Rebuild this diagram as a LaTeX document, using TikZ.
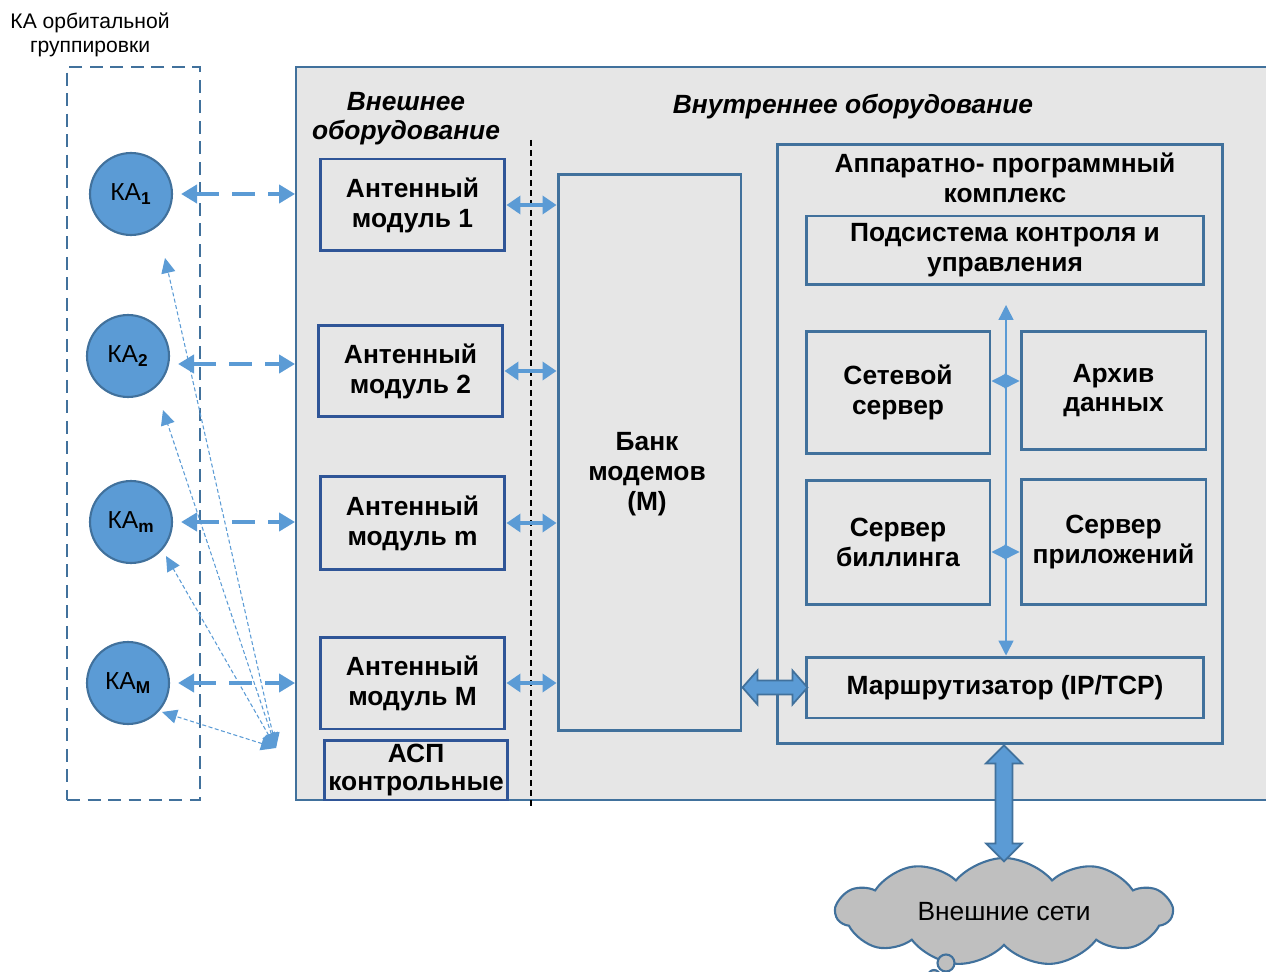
\documentclass[tikz,border=0pt]{standalone}
\usepackage{fontspec}
\setmainfont{Liberation Sans}
\usetikzlibrary{arrows.meta,shapes.symbols}
\definecolor{frame}{RGB}{65,113,156}
\definecolor{darkframe}{RGB}{47,85,151}
\definecolor{lightblue}{RGB}{91,155,213}
\definecolor{panel}{RGB}{230,230,230}
\definecolor{cloudgray}{RGB}{191,191,191}

\begin{document}
\begin{tikzpicture}[x=0.02cm,y=-0.02cm,
  txt/.style={font=\fontsize{15}{17}\selectfont\bfseries, align=center},
  head/.style={font=\fontsize{15}{16.5}\selectfont\bfseries\itshape, align=center},
  antbox/.style={draw=darkframe, line width=1.7pt, minimum width=3.7cm, minimum height=1.84cm, inner sep=0pt, txt},
  srvbox/.style={draw=frame, line width=1.7pt, inner sep=0pt, txt},
  sat/.style={circle, fill=lightblue, draw=frame, line width=1.2pt, minimum size=1.64cm, inner sep=0pt, font=\fontsize{14}{16}\selectfont},
  link/.style={lightblue, line width=2.8pt, dash pattern=on 0.46cm off 0.26cm, {Triangle[width=0.36cm,length=0.32cm]}-{Triangle[width=0.36cm,length=0.32cm]}},
  bus/.style={lightblue, line width=2.2pt, {Triangle[width=0.36cm,length=0.28cm]}-{Triangle[width=0.36cm,length=0.28cm]}},
  tiny/.style={lightblue, line width=0.8pt, {Triangle[width=0.3cm,length=0.3cm]}-{Triangle[width=0.3cm,length=0.3cm]}},
  probe/.style={lightblue, line width=0.6pt, dash pattern=on 0.08cm off 0.05cm, {Triangle[width=0.28cm,length=0.3cm]}-{Triangle[width=0.28cm,length=0.3cm]}},
  fat/.style={draw=frame, fill=lightblue, line width=1pt, line join=miter}]

\useasboundingbox (0,0) rectangle (1266,972);
\clip (0,0) rectangle (1266,972);

\node[align=center, font=\fontsize{12}{14}\selectfont] (orbittxt) at (90,35) {КА орбитальной\\группировки};
\node[draw=frame, line width=1.4pt, dash pattern=on 0.26cm off 0.15cm, minimum width=2.66cm, minimum height=14.66cm] (orbit) at (133.5,433.5) {};
\node[draw=frame, fill=panel, line width=1.2pt, minimum width=19.88cm, minimum height=14.66cm] (station) at (793,433.5) {};

\node[head] (extlbl) at (406,119) {Внешнее\\оборудование};
\node[head] (intlbl) at (853,107) {Внутреннее оборудование};
\draw[black, line width=0.6pt, dash pattern=on 0.12cm off 0.08cm] (531,140) -- (531,808);

\node[antbox] (am1) at (412.5,205) {Антенный\\модуль 1};
\node[antbox] (am2) at (410.5,371) {Антенный\\модуль 2};
\node[antbox, minimum height=1.88cm] (am3) at (412.5,523) {Антенный\\модуль m};
\node[antbox] (am4) at (412.5,683) {Антенный\\модуль M};
\node[antbox, minimum width=3.68cm, minimum height=1.2cm, font=\fontsize{15}{15.5}\selectfont\bfseries] (asp) at (416,770) {АСП\\контрольные};

\node[srvbox, minimum width=3.66cm, minimum height=11.14cm] (bank) at (649.5,452.5) {};
\node[txt] (banktxt) at (647,474) {Банк\\модемов\\(М)};

\node[srvbox, minimum width=8.92cm, minimum height=12cm] (apk) at (1000,444) {};
\node[txt] (apktxt) at (1005,178) {Аппаратно- программный\\комплекс};
\node[srvbox, minimum width=7.96cm, minimum height=1.38cm] (pod) at (1005,250.5) {Подсистема контроля и\\управления};
\node[srvbox, minimum width=3.68cm, minimum height=2.46cm] (net) at (898,392.5) {Сетевой\\сервер};
\node[srvbox, minimum width=3.7cm, minimum height=2.38cm] (arch) at (1113.5,390.5) {Архив\\данных};
\node[srvbox, minimum width=3.68cm, minimum height=2.5cm] (bill) at (898,542.5) {Сервер\\биллинга};
\node[srvbox, minimum width=3.7cm, minimum height=2.52cm] (app) at (1113.5,542) {Сервер\\приложений};
\node[srvbox, minimum width=7.96cm, minimum height=1.22cm] (router) at (1005,687.5) {Маршрутизатор (IP/TCP)};

\node[sat] (s1) at (131,194) {КА\textsubscript{\textbf{1}}};
\node[sat] (s2) at (128,356) {КА\textsubscript{\textbf{2}}};
\node[sat] (s3) at (131,522) {КА\textsubscript{\textbf{m}}};
\node[sat] (s4) at (128,683) {КА\textsubscript{\textbf{M}}};

\draw[link] ([xshift=0.16cm]s1.east) -- (s1 -| station.west);
\draw[link] ([xshift=0.16cm,yshift=-0.16cm]s2.east) -- ([yshift=-0.16cm]s2 -| station.west);
\draw[link] ([xshift=0.16cm]s3.east) -- (s3 -| station.west);
\draw[link] ([xshift=0.16cm]s4.east) -- (s4 -| station.west);

\foreach \a in {am1,am2,am3,am4}
  \draw[bus] (\a.east) -- (\a.east -| bank.west);

\draw[tiny] ([yshift=0.23cm]net.east) -- ([yshift=0.23cm]net.east -| arch.west);
\draw[tiny] ([yshift=-0.19cm]bill.east) -- ([yshift=-0.19cm]bill.east -| app.west);
\coordinate (vtop) at (1006,305);
\draw[tiny] (vtop) -- (vtop |- router.north);

\node[cloud, cloud puffs=11, cloud puff arc=100, aspect=3.4, draw=frame, fill=cloudgray, line width=1.2pt, minimum width=6.72cm, minimum height=2cm, font=\fontsize{15}{17}\selectfont] (cloud) at (1004,912) {Внешние сети};
\draw[frame, fill=cloudgray, line width=1.2pt] (946,963) circle (0.17cm);
\draw[frame, fill=cloudgray, line width=1.2pt] (934,976) circle (0.12cm);

\draw[fat] (bank.east |- router.west) -- ++(15,-17) -- ++(0,10) -- ++(35,0) -- ++(0,-10) -- ++(15,17)
  -- ++(-15,17) -- ++(0,-10) -- ++(-35,0) -- ++(0,10) -- cycle;
\draw[fat] (apk.south -| cloud.north) -- ++(18,18) -- ++(-9.5,0) -- ++(0,80) -- ++(9.5,0) -- ++(-18,18)
  -- ++(-18,-18) -- ++(9.5,0) -- ++(0,-80) -- ++(-9.5,0) -- cycle;

\coordinate (src) at (276,748);
\coordinate (t1) at (165,258);
\coordinate (t2) at (163,410);
\coordinate (t3) at (166,556);
\coordinate (t4) at (162,712);
\foreach \t in {t1,t2,t3,t4}
  \draw[probe] (src) -- (\t);

\end{tikzpicture}
\end{document}
